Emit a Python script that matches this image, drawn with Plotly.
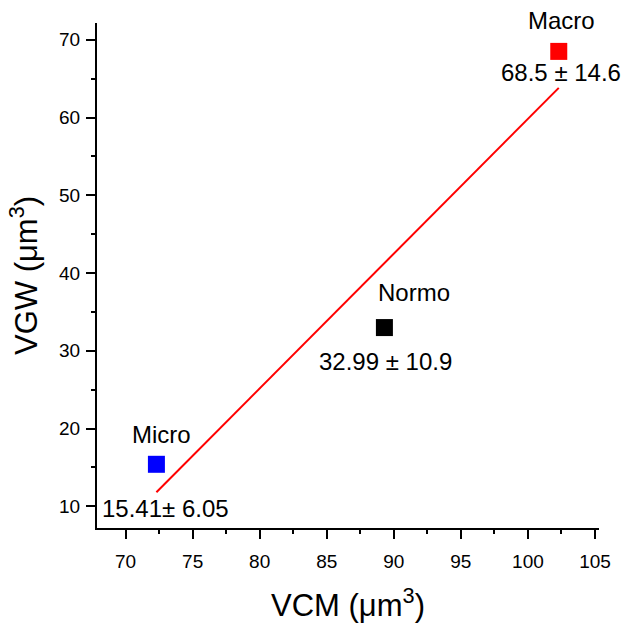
import numpy as np
import plotly.graph_objects as go

# Group means: mean corpuscular volume (x) vs. VGW (y)
groups = ["Micro", "Normo", "Macro"]
vcm = [72.3, 89.3, 102.3]
vgw_mean = [15.41, 32.99, 68.5]
vgw_sd = [6.05, 10.9, 14.6]
colors = ["#0000ff", "#000000", "#ff0000"]
value_labels = ["15.41\u00b1 6.05", "32.99 \u00b1 10.9", "68.5 \u00b1 14.6"]

FONT = "Liberation Sans, Arial, sans-serif"

# Least-squares line through the group means
slope, intercept = np.polyfit(vcm, vgw_mean, 1)
x_fit = np.array([min(vcm), max(vcm)])
y_fit = slope * x_fit + intercept

fig = go.Figure()
fig.add_trace(go.Scatter(
    x=x_fit, y=y_fit, mode="lines",
    line=dict(color="#ff0000", width=2), showlegend=False, hoverinfo="skip",
))
fig.add_trace(go.Scatter(
    x=vcm, y=vgw_mean, mode="markers",
    marker=dict(symbol="square", size=17, color=colors, line=dict(width=0)),
    showlegend=False,
))

# group name above each marker, mean ± SD below
name_shift = [(5, 30), (30, 35), (3, 31)]
value_shift = [(9, -44), (1, -34), (2, -21)]
for i, g in enumerate(groups):
    fig.add_annotation(
        x=vcm[i], y=vgw_mean[i], text=g, showarrow=False,
        xshift=name_shift[i][0], yshift=name_shift[i][1],
        font=dict(family=FONT, size=24, color="black"),
    )
    fig.add_annotation(
        x=vcm[i], y=vgw_mean[i], text=value_labels[i], showarrow=False,
        xshift=value_shift[i][0], yshift=value_shift[i][1],
        font=dict(family=FONT, size=24, color="black"),
    )

axis_common = dict(
    showgrid=False, zeroline=False, showline=True, linecolor="black",
    linewidth=2, ticks="outside", ticklen=9, tickwidth=2, tickcolor="black",
    mirror=False, tickfont=dict(family=FONT, size=19, color="black"),
)

fig.update_xaxes(
    range=[67.87, 105.3], tickmode="linear", tick0=70, dtick=5,
    minor=dict(ticks="outside", ticklen=4, tickwidth=2, tickcolor="black",
               tick0=72.5, dtick=5, showgrid=False),
    title=dict(text="VCM (\u03bcm<sup>3</sup>)", font=dict(family=FONT, size=31, color="black"),
               standoff=24),
    ticklabelstandoff=6,
    **axis_common,
)
fig.update_yaxes(
    range=[7.22, 72.15], tickmode="linear", tick0=10, dtick=10,
    minor=dict(ticks="outside", ticklen=4, tickwidth=2, tickcolor="black",
               tick0=15, dtick=10, showgrid=False),
    title=dict(text="VGW (\u03bcm<sup>3</sup>)", font=dict(family=FONT, size=31, color="black"),
               standoff=12),
    ticklabelstandoff=2,
    **axis_common,
)

fig.update_layout(
    width=626, height=629,
    margin=dict(l=97, r=27, t=23, b=101),
    paper_bgcolor="white", plot_bgcolor="white",
)

fig.write_html("out.html")
